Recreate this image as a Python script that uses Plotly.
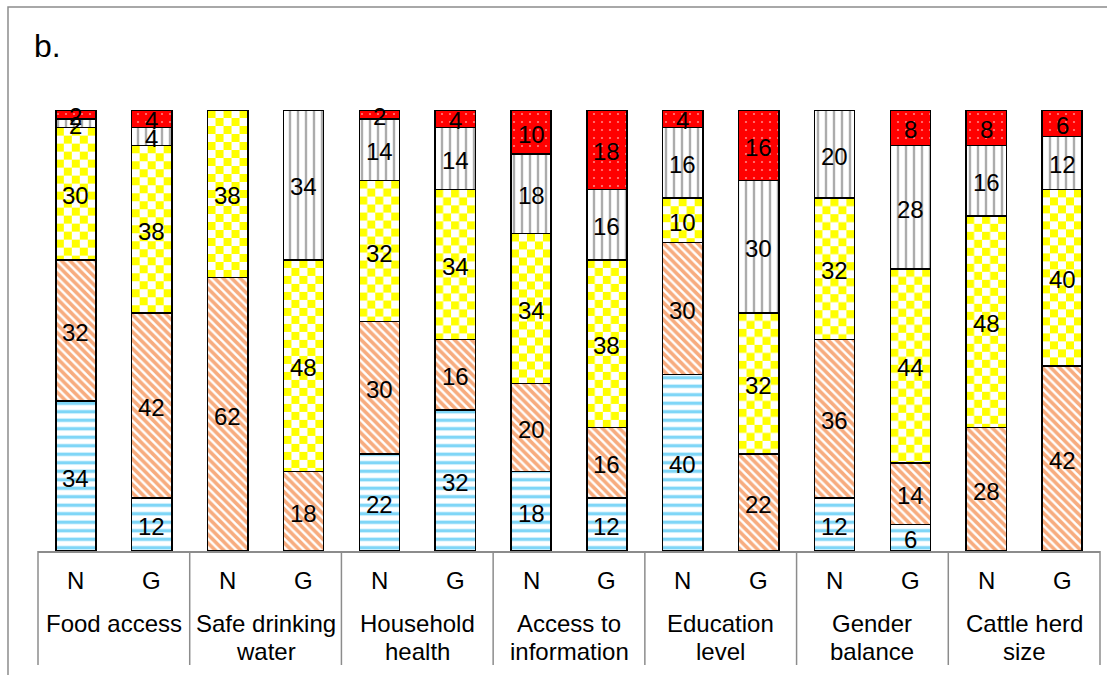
import base64
import plotly.graph_objects as go

# Indicator groups and the two bars drawn in each group
groups = ["Food access", "Safe drinking<br>water", "Household<br>health",
          "Access to<br>information", "Education<br>level", "Gender<br>balance",
          "Cattle herd<br>size"]
sub_labels = ["N", "G"]

# Percent shares per bar (N, G for each group), stacked bottom to top
blue = [34, 12, 0, 0, 22, 32, 18, 12, 40, 0, 12, 6, 0, 0]
orange = [32, 42, 62, 18, 30, 16, 20, 16, 30, 22, 36, 14, 28, 42]
yellow = [30, 38, 38, 48, 32, 34, 34, 38, 10, 32, 32, 44, 48, 40]
white = [2, 4, 0, 34, 14, 14, 18, 16, 16, 30, 20, 28, 16, 12]
red = [2, 4, 0, 0, 2, 4, 10, 18, 4, 16, 0, 8, 8, 6]

FONT = "Liberation Sans, Arial, sans-serif"
GRAY = "#8C8C8C"
BAR_W = 0.53

W, H = 1107, 675
M = dict(l=38, r=7, t=110, b=124)

series = [
    ("blue", blue, dict(shape="-", fgcolor="#00AEEF", bgcolor="white", size=8.5, solidity=0.4)),
    ("orange", orange, dict(shape="\\", fgcolor="#F05A00", bgcolor="white", size=6, solidity=0.6)),
    ("yellow", yellow, None),  # checkerboard fill is drawn as images below the bars
    ("white", white, dict(shape="|", fgcolor="#595959", bgcolor="white", size=8, solidity=0.3)),
    ("red", red, dict(shape=".", fgcolor="white", bgcolor="#FF0000", size=8, solidity=0.06)),
]

n_bars = len(groups) * len(sub_labels)
xs = list(range(n_bars))

fig = go.Figure()
for name, vals, pat in series:
    if pat is None:
        marker = dict(color="rgba(0,0,0,0)", line=dict(color="black", width=1.5))
    else:
        marker = dict(color=pat["bgcolor"], pattern=pat,
                      line=dict(color="black", width=1.5))
    fig.add_trace(go.Bar(
        x=xs,
        y=[v if v else None for v in vals],
        name=name,
        width=BAR_W,
        marker=marker,
        hoverinfo="skip",
    ))

annotations = []

# Value labels centred in each segment, at full size even for thin segments
cum = [0] * n_bars
for name, vals, pat in series:
    for i, v in enumerate(vals):
        if v:
            annotations.append(dict(
                x=i, y=cum[i] + v / 2, xref="x", yref="y", text=str(v),
                showarrow=False, yanchor="middle", yshift=-2,
                font=dict(family=FONT, size=24, color="black")))
        cum[i] += v

# Checkerboard fill for the yellow segments
px_per_x = (W - M["l"] - M["r"]) / n_bars
px_per_y = (H - M["t"] - M["b"]) / 100.0


def checker_svg(w_px, h_px, cell=8):
    svg = (
        f'<svg xmlns="http://www.w3.org/2000/svg" width="{w_px:.1f}" height="{h_px:.1f}" '
        f'viewBox="0 0 {w_px:.1f} {h_px:.1f}" preserveAspectRatio="none">'
        f'<defs><pattern id="c" width="{2*cell}" height="{2*cell}" patternUnits="userSpaceOnUse">'
        f'<rect width="{2*cell}" height="{2*cell}" fill="white"/>'
        f'<rect width="{cell}" height="{cell}" fill="#FFFF00"/>'
        f'<rect x="{cell}" y="{cell}" width="{cell}" height="{cell}" fill="#FFFF00"/>'
        f'</pattern></defs><rect width="100%" height="100%" fill="url(#c)"/></svg>'
    )
    return "data:image/svg+xml;base64," + base64.b64encode(svg.encode()).decode()


images = []
for i in xs:
    v = yellow[i]
    if not v:
        continue
    base = blue[i] + orange[i]
    images.append(dict(
        source=checker_svg(BAR_W * px_per_x, v * px_per_y),
        xref="x", yref="y", x=i - BAR_W / 2, y=base + v,
        sizex=BAR_W, sizey=v, xanchor="left", yanchor="top",
        sizing="stretch", layer="below",
    ))

shapes = []

# Category table under the bars
ng = len(groups)
for k in range(ng + 1):
    shapes.append(dict(type="line", xref="paper", yref="paper",
                       x0=k / ng, x1=k / ng, y0=0, y1=-0.2585,
                       line=dict(color=GRAY, width=1.5)))

for i, x in enumerate(xs):
    annotations.append(dict(x=x, y=-0.066, xref="x", yref="paper",
                            text=sub_labels[i % 2], showarrow=False,
                            font=dict(family=FONT, size=24, color="black"),
                            yanchor="middle"))

for g, label in enumerate(groups):
    cx = 2 * g + 0.5
    for j, line in enumerate(label.split("<br>")):
        annotations.append(dict(x=cx, y=-0.1633 - 0.0635 * j, xref="x", yref="paper",
                                text=line, showarrow=False,
                                font=dict(family=FONT, size=24, color="black"),
                                yanchor="middle"))

# Panel letter and outer frame
annotations.append(dict(x=-0.006, y=1.145, xref="paper", yref="paper", text="b.",
                        showarrow=False, xanchor="left", yanchor="middle",
                        font=dict(family=FONT, size=32, color="black")))
shapes.append(dict(type="rect", xref="paper", yref="paper",
                   x0=-0.02825, x1=1.02, y0=-0.30, y1=1.2336,
                   line=dict(color=GRAY, width=1.5), fillcolor="rgba(0,0,0,0)"))

fig.update_layout(
    barmode="stack",
    width=W, height=H,
    margin=M,
    paper_bgcolor="white", plot_bgcolor="white",
    showlegend=False,
    xaxis=dict(range=[-0.5, n_bars - 0.5], showticklabels=False, ticks="",
               showgrid=False, zeroline=False, showline=True,
               linecolor=GRAY, linewidth=1.5),
    yaxis=dict(range=[0, 100], visible=False, showgrid=False, zeroline=False),
    shapes=shapes,
    annotations=annotations,
    images=images,
)

fig.write_html("out.html")
